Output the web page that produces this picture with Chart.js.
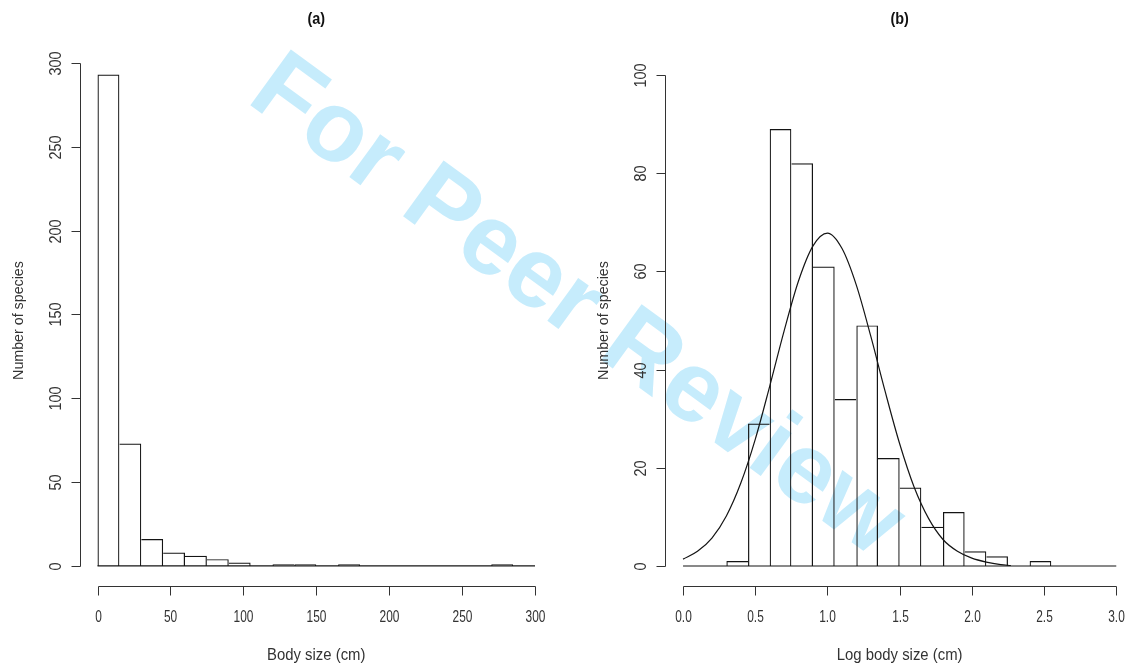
<!DOCTYPE html>
<html>
<head>
<meta charset="utf-8">
<script src="https://cdn.jsdelivr.net/npm/chart.js@4.4.0/dist/chart.umd.min.js"></script>
<style>
  html, body { margin: 0; padding: 0; background: #fff; }
  #wrap { position: relative; width: 1132px; height: 667px; overflow: hidden; }
  #wrap canvas { position: absolute; top: 0; }
  #stamp {
    position: absolute; left: 580px; top: 302px;
    transform: translate(-50%, -50%) rotate(36deg);
    font: bold 100px "Liberation Sans", Arial, sans-serif;
    color: #c6ecfc; white-space: nowrap;
  }
</style>
</head>
<body>
<div id="wrap">
  <div id="stamp">For Peer Review</div>
  <canvas id="histA" width="566" height="667" style="left:0"></canvas>
  <canvas id="histB" width="566" height="667" style="left:566px"></canvas>
</div>
<script>
// (a) raw body size, 15 cm bins
const sizeBreaks = [0, 15, 30, 45, 60, 75, 90, 105, 120, 135, 150, 165, 180, 195, 210, 225, 240, 255, 270, 285, 300];
const sizeCounts = [293, 73, 16, 8, 6, 4, 2, 0, 1, 1, 0, 1, 0, 0, 0, 0, 0, 0, 1, 0];
const sizeTicks = [0, 50, 100, 150, 200, 250, 300];
const sizeCountTicks = [0, 50, 100, 150, 200, 250, 300];

// (b) log body size, 0.15 bins
const logBreaks = [0, 0.15, 0.3, 0.45, 0.6, 0.75, 0.9, 1.05, 1.2, 1.35, 1.5, 1.65, 1.8, 1.95, 2.1, 2.25, 2.4, 2.55, 2.7, 2.85, 3.0];
const logCounts = [0, 0, 1, 29, 89, 82, 61, 34, 49, 22, 16, 8, 11, 3, 2, 0, 1, 0, 0, 0];
const logTicks = [0, 0.5, 1.0, 1.5, 2.0, 2.5, 3.0];
const logCountTicks = [0, 20, 40, 60, 80, 100];

// fitted normal curve over panel (b)
const fitX = [0, 0.1, 0.2, 0.3, 0.4, 0.5, 0.6, 0.7, 0.8, 0.9, 1.0, 1.1, 1.2, 1.3, 1.4, 1.5, 1.6, 1.7, 1.8, 1.9, 2.0, 2.1, 2.2, 2.27];
const fitY = [1.4, 3.0, 5.7, 10.2, 16.9, 25.8, 36.6, 47.9, 58.1, 65.2, 67.8, 64.7, 57.2, 46.8, 35.5, 24.9, 16.1, 9.7, 5.4, 3.0, 1.6, 0.8, 0.3, 0.1];

const INK = '#141414';
const AXIS = '#333';
const FONT = '"Liberation Sans", Arial, sans-serif';

function drawText(ctx, text, cx, cy, angle, squeeze, font) {
  ctx.save();
  ctx.translate(cx, cy);
  ctx.rotate(angle);
  ctx.scale(squeeze, 1);
  ctx.font = font;
  ctx.textAlign = 'center';
  ctx.textBaseline = 'middle';
  ctx.fillText(text, 0, 0);
  ctx.restore();
}

// base-graphics style axes: detached lines spanning the tick range only
const rAxes = {
  id: 'rAxes',
  afterDraw(chart, args, o) {
    const { ctx, chartArea: a, scales: { x, y } } = chart;
    ctx.save();
    ctx.strokeStyle = AXIS;
    ctx.fillStyle = AXIS;
    ctx.lineWidth = 1;

    const xs = o.xTicks.map(v => Math.round(x.getPixelForValue(v)) + 0.5);
    const yb = Math.round(a.bottom) + 0.5;
    ctx.beginPath();
    ctx.moveTo(xs[0], yb);
    ctx.lineTo(xs[xs.length - 1], yb);
    xs.forEach(px => { ctx.moveTo(px, yb); ctx.lineTo(px, yb + 9); });

    const ys = o.yTicks.map(v => Math.round(y.getPixelForValue(v)) + 0.5);
    const xl = Math.round(a.left) + 0.5;
    ctx.moveTo(xl, ys[0]);
    ctx.lineTo(xl, ys[ys.length - 1]);
    ys.forEach(py => { ctx.moveTo(xl, py); ctx.lineTo(xl - 9, py); });
    ctx.stroke();

    const tickFont = '17px ' + FONT;
    o.xTicks.forEach((v, i) => drawText(ctx, o.xFmt(v), xs[i], a.bottom + 31, 0, 0.7, tickFont));
    o.yTicks.forEach((v, i) => drawText(ctx, String(v), a.left - 24, ys[i], -Math.PI / 2, 0.85, tickFont));

    const midX = x.getPixelForValue((o.xTicks[0] + o.xTicks[o.xTicks.length - 1]) / 2);
    const midY = (a.top + a.bottom) / 2;
    drawText(ctx, o.xTitle, midX, a.bottom + 70, 0, 0.93, '16px ' + FONT);
    drawText(ctx, o.yTitle, a.left - 61, midY, -Math.PI / 2, 0.95, '15px ' + FONT);
    ctx.fillStyle = '#111';
    drawText(ctx, o.title, midX, 20, 0, 0.9, 'bold 16px ' + FONT);
    ctx.restore();
  }
};

// the taller of two neighbouring bars owns the shared edge, so inner edges stay single
function edgeWidths(counts) {
  return c => {
    const i = c.dataIndex, v = counts[i];
    const prev = i > 0 ? counts[i - 1] : -1;
    const next = i < counts.length - 1 ? counts[i + 1] : -1;
    if (v === 0) return 0;
    return { top: 1.2, bottom: 0, left: v >= prev ? 1.2 : 0, right: v > next ? 1.2 : 0 };
  };
}

function histogram(id, breaks, counts, extra, cfg) {
  const bars = counts.map((c, i) => ({ x: (breaks[i] + breaks[i + 1]) / 2, y: c }));
  const datasets = [
    {
      type: 'bar',
      data: bars,
      backgroundColor: 'rgba(0,0,0,0)',
      borderColor: INK,
      borderWidth: edgeWidths(counts),
      borderSkipped: false,
      inflateAmount: 0,
      barPercentage: 1,
      categoryPercentage: 1
    },
    {
      type: 'line',
      data: [{ x: breaks[0], y: 0 }, { x: breaks[breaks.length - 1], y: 0 }],
      borderColor: INK,
      borderWidth: 1.2,
      pointRadius: 0
    }
  ].concat(extra);

  return new Chart(document.getElementById(id), {
    type: 'bar',
    data: { datasets },
    options: {
      responsive: false,
      animation: false,
      layout: { padding: cfg.padding },
      scales: {
        x: {
          type: 'linear', min: cfg.xMin, max: cfg.xMax, offset: false, display: false,
          afterBuildTicks: s => { s.ticks = cfg.xTicks.map(v => ({ value: v })); }
        },
        y: {
          type: 'linear', min: cfg.yMin, max: cfg.yMax, display: false,
          afterBuildTicks: s => { s.ticks = cfg.yTicks.map(v => ({ value: v })); }
        }
      },
      plugins: {
        legend: { display: false },
        tooltip: { enabled: false },
        rAxes: {
          xTicks: cfg.xTicks, yTicks: cfg.yTicks, xFmt: cfg.xFmt,
          xTitle: cfg.xTitle, yTitle: 'Number of species', title: cfg.title
        }
      }
    },
    plugins: [rAxes]
  });
}

histogram('histA', sizeBreaks, sizeCounts, [], {
  padding: { left: 80, right: 13.5, top: 55, bottom: 81 },
  xMin: -12, xMax: 312, yMin: -12, yMax: 304.7,
  xTicks: sizeTicks, yTicks: sizeCountTicks,
  xFmt: v => String(v),
  xTitle: 'Body size (cm)', title: '(a)'
});

histogram('histB', logBreaks, logCounts, [{
  type: 'line',
  data: fitX.map((v, i) => ({ x: v, y: fitY[i] })),
  borderColor: INK,
  borderWidth: 1.2,
  pointRadius: 0,
  cubicInterpolationMode: 'monotone'
}], {
  padding: { left: 99, right: 0, top: 55, bottom: 81 },
  xMin: -0.125, xMax: 3.109, yMin: -4.07, yMax: 104.07,
  xTicks: logTicks, yTicks: logCountTicks,
  xFmt: v => v.toFixed(1),
  xTitle: 'Log body size (cm)', title: '(b)'
});
</script>
</body>
</html>
